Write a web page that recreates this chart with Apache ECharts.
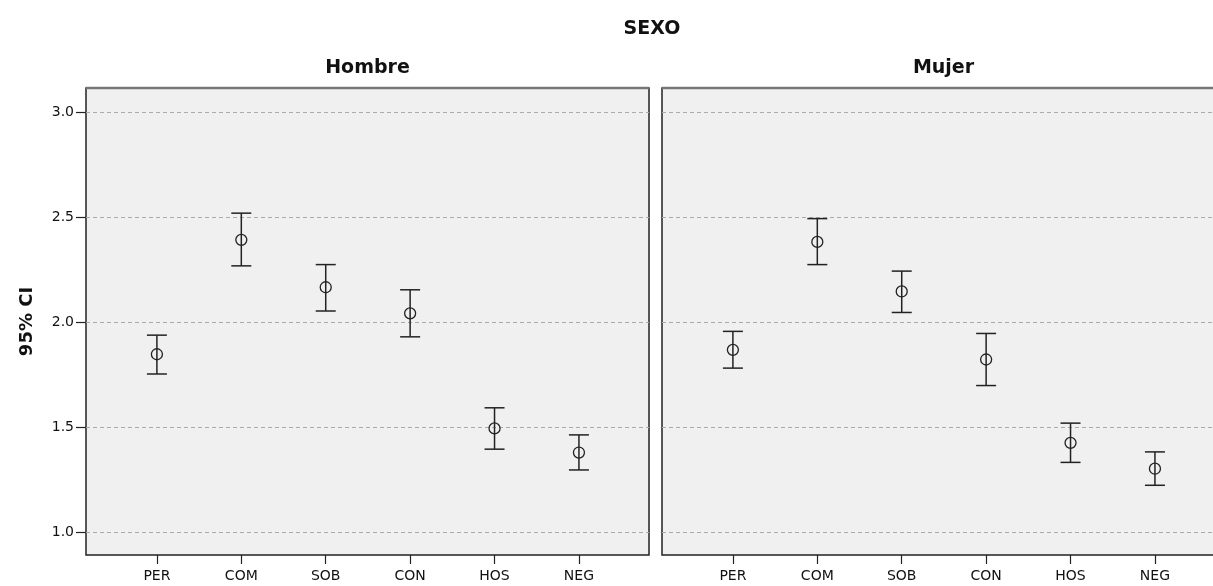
<!DOCTYPE html>
<html>
<head>
<meta charset="utf-8">
<script src="https://cdn.jsdelivr.net/npm/echarts@6/dist/echarts.min.js"></script>
<style>
  html, body { margin: 0; padding: 0; background: #fff; }
  #chart { width: 1213px; height: 586px; }
</style>
</head>
<body>
<div id="chart"></div>
<script>
// Subscales and their 95% confidence intervals, split by sex
const categories = ['PER', 'COM', 'SOB', 'CON', 'HOS', 'NEG'];
const yTicks = [1.0, 1.5, 2.0, 2.5, 3.0];

const hombreMean  = [1.846, 2.391, 2.165, 2.041, 1.493, 1.378];
const hombreLower = [1.752, 2.267, 2.052, 1.929, 1.394, 1.295];
const hombreUpper = [1.937, 2.518, 2.273, 2.153, 1.591, 1.462];

const mujerMean  = [1.867, 2.381, 2.145, 1.821, 1.424, 1.301];
const mujerLower = [1.780, 2.273, 2.045, 1.697, 1.331, 1.222];
const mujerUpper = [1.955, 2.492, 2.242, 1.945, 1.518, 1.381];

const FONT = 'DejaVu Sans';
const INK = '#222';

const panels = [
  { name: 'Hombre', left: 86, mean: hombreMean, lower: hombreLower, upper: hombreUpper },
  { name: 'Mujer', left: 662, mean: mujerMean, lower: mujerLower, upper: mujerUpper }
];
const PANEL_W = 563, PANEL_TOP = 88, PANEL_H = 467;

function toRows(p) {
  return categories.map((c, i) => [i, p.lower[i], p.upper[i], p.mean[i]]);
}

function renderErrorBar(params, api) {
  const x = api.value(0);
  const lo = api.coord([x, api.value(1)]);
  const hi = api.coord([x, api.value(2)]);
  const mid = api.coord([x, api.value(3)]);
  const cap = 10;
  const line = { stroke: INK, lineWidth: 1.5 };
  return {
    type: 'group',
    children: [
      { type: 'line', shape: { x1: lo[0], y1: lo[1], x2: hi[0], y2: hi[1] }, style: line },
      { type: 'line', shape: { x1: hi[0] - cap, y1: hi[1], x2: hi[0] + cap, y2: hi[1] }, style: line },
      { type: 'line', shape: { x1: lo[0] - cap, y1: lo[1], x2: lo[0] + cap, y2: lo[1] }, style: line },
      { type: 'circle', shape: { cx: mid[0], cy: mid[1], r: 5.5 }, style: { fill: 'none', stroke: INK, lineWidth: 1.3 } }
    ]
  };
}

const chart = echarts.init(document.getElementById('chart'));

const option = {
  animation: false,
  backgroundColor: '#fff',
  graphic: [
    { type: 'text', x: 652, y: 29, style: { text: 'SEXO', font: 'bold 19px "' + FONT + '"', fill: '#111', align: 'center', verticalAlign: 'middle' } },
    { type: 'text', x: 86 + PANEL_W / 2, y: 68, style: { text: 'Hombre', font: 'bold 19px "' + FONT + '"', fill: '#111', align: 'center', verticalAlign: 'middle' } },
    { type: 'text', x: 662 + PANEL_W / 2, y: 68, style: { text: 'Mujer', font: 'bold 19px "' + FONT + '"', fill: '#111', align: 'center', verticalAlign: 'middle' } },
    // lighter upper edge of each panel frame
    { type: 'line', shape: { x1: 86, y1: PANEL_TOP, x2: 86 + PANEL_W, y2: PANEL_TOP }, style: { stroke: '#777', lineWidth: 2.5 }, z: 10 },
    { type: 'line', shape: { x1: 662, y1: PANEL_TOP, x2: 662 + PANEL_W, y2: PANEL_TOP }, style: { stroke: '#777', lineWidth: 2.5 }, z: 10 }
  ],
  grid: panels.map(p => ({
    left: p.left, top: PANEL_TOP, width: PANEL_W, height: PANEL_H,
    show: true, backgroundColor: '#f0f0f0', borderColor: INK, borderWidth: 1.5,
    containLabel: false, outerBoundsMode: 'none'
  })),
  xAxis: panels.map((p, k) => ({
    type: 'value', gridIndex: k, min: -0.84, max: 5.83,
    axisLine: { show: false, onZero: false },
    splitLine: { show: false },
    axisTick: { show: true, length: 9, lineStyle: { color: INK, width: 1.2 }, customValues: categories.map((c, i) => i) },
    axisLabel: {
      customValues: categories.map((c, i) => i),
      formatter: v => categories[v] || '',
      color: '#111', fontFamily: FONT, fontSize: 14, margin: 14
    }
  })),
  yAxis: panels.map((p, k) => ({
    type: 'value', gridIndex: k, min: 0.89, max: 3.114,
    name: k === 0 ? '95% CI' : '',
    nameLocation: 'middle', nameGap: 50, nameRotate: 90,
    nameTextStyle: { fontFamily: FONT, fontSize: 18, fontWeight: 'bold', color: '#111' },
    axisLine: { show: false, onZero: false },
    axisTick: { show: k === 0, length: 10, lineStyle: { color: INK, width: 1.2 }, customValues: yTicks },
    axisLabel: {
      show: k === 0, customValues: yTicks,
      formatter: v => v.toFixed(1),
      color: '#111', fontFamily: FONT, fontSize: 14, margin: 12
    },
    splitLine: { show: true, lineStyle: { color: '#aaa', type: [4, 3], width: 1 } }
  })),
  series: panels.map((p, k) => ({
    type: 'custom', name: p.name, xAxisIndex: k, yAxisIndex: k,
    renderItem: renderErrorBar,
    encode: { x: 0, y: [1, 2, 3] },
    data: toRows(p),
    z: 5
  }))
};

chart.setOption(option);
</script>
</body>
</html>
